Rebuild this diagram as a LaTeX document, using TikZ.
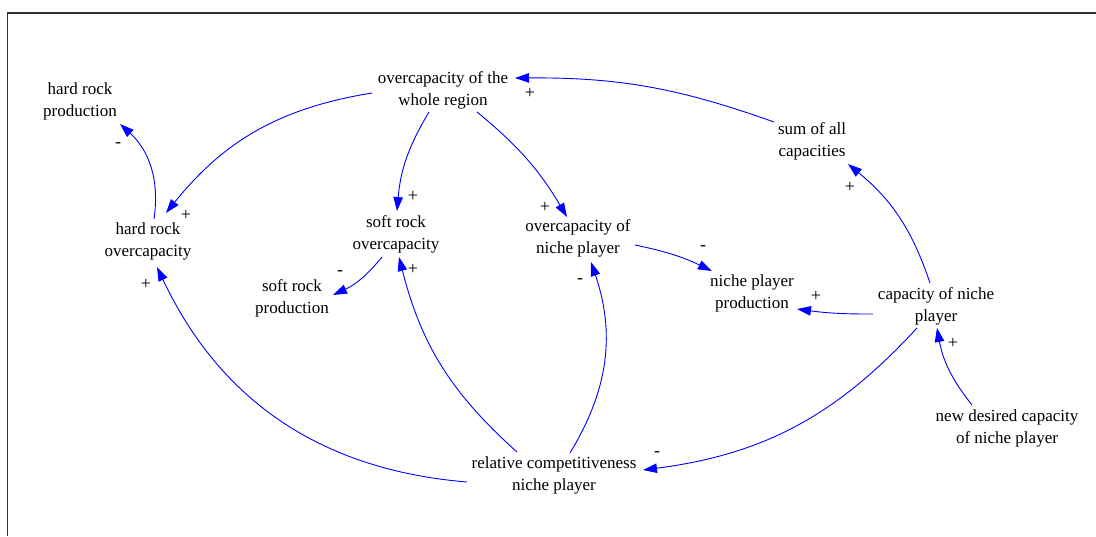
\documentclass[tikz,border=0pt]{standalone}
\usepackage{fontspec}
\setmainfont{Liberation Serif}
\usetikzlibrary{calc,arrows.meta}
\begin{document}
\begin{tikzpicture}[x=1pt,y=-1pt,
  var/.style={align=center,inner sep=0pt,font=\fontsize{17}{22}\selectfont},
  pol/.style={inner sep=0pt,font=\fontsize{18}{20}\selectfont},
  link/.style={draw=blue,line width=0.9pt,-{Triangle[length=14pt,width=9.5pt]}},
  frame/.style={line width=1.3pt,draw=black!80}]
\useasboundingbox (0,0) rectangle (1096,536);
\draw[frame] (7.5,536) -- (7.5,13) -- (1096,13);

\node[var] (hrp)   at (80,101)  {hard rock\\production};
\node[var] (whole) at (443,90)  {overcapacity of the\\whole region};
\node[var] (sum)   at (812,141) {sum of all\\capacities};
\node[var] (hro)   at (148,241) {hard rock\\overcapacity};
\node[var] (sro)   at (396,234) {soft rock\\overcapacity};
\node[var] (nov)   at (578,238) {overcapacity of\\niche player};
\node[var] (srp)   at (292,298) {soft rock\\production};
\node[var] (npp)   at (752,293) {niche player\\production};
\node[var] (cap)   at (936,306) {capacity of niche\\player};
\node[var] (new)   at (1007,428) {new desired capacity\\of niche player};
\node[var] (rel)   at (554,475) {relative competitiveness\\niche player};

% connectors
\draw[link] ($(whole)+(-71,3)$)  to[bend right=21] ($(hro)+(18,-28)$);
\draw[link] ($(hro)+(6,-22)$)    to[bend right=28] ($(hrp)+(40,23)$);
\draw[link] ($(whole)+(-14,22)$) to[bend right=13] ($(sro)+(1,-23)$);
\draw[link] ($(whole)+(34,22)$)  to[bend left=10]  ($(nov)+(-11,-21)$);
\draw[link] ($(sum)+(-38,-19)$)  to[bend right=10] ($(whole)+(72,-12)$);
\draw[link] ($(cap)+(-6,-23)$)   to[bend right=16] ($(sum)+(36,23)$);
\draw[link] ($(nov)+(57,7)$)     to[bend left=7]   ($(npp)+(-40,-22)$);
\draw[link] ($(cap)+(-63,8)$)    to[bend left=4]   ($(npp)+(45,16)$);
\draw[link] ($(new)+(-35,-23)$)  to[bend left=14]  ($(cap)+(1,22)$);
\draw[link] ($(cap)+(-19,22)$)   to[bend left=20]  ($(rel)+(89,-5)$);
\draw[link] ($(sro)+(-14,23)$)   to[bend left=13]  ($(srp)+(41,-3)$);
\draw[link] ($(rel)+(-37,-23)$)  to[bend left=17]  ($(sro)+(3,23)$);
\draw[link] ($(rel)+(16,-22)$)   to[bend right=25] ($(nov)+(13,24)$);
\draw[link] ($(rel)+(-87,7)$)    to[bend left=30]  ($(hro)+(9,26)$);

% polarities
\node[pol] (p1)  at (186,215) {+};
\node[pol] (p2)  at (118,145) {-};
\node[pol] (p3)  at (413,196) {+};
\node[pol] (p4)  at (545,207) {+};
\node[pol] (p5)  at (530,93)  {+};
\node[pol] (p6)  at (850,187) {+};
\node[pol] (p7)  at (703,248) {-};
\node[pol] (p8)  at (816,296) {+};
\node[pol] (p9)  at (953,343) {+};
\node[pol] (p10) at (657,454) {-};
\node[pol] (p11) at (340,273) {-};
\node[pol] (p12) at (413,269) {+};
\node[pol] (p13) at (580,281) {-};
\node[pol] (p14) at (146,284) {+};
\end{tikzpicture}
\end{document}
